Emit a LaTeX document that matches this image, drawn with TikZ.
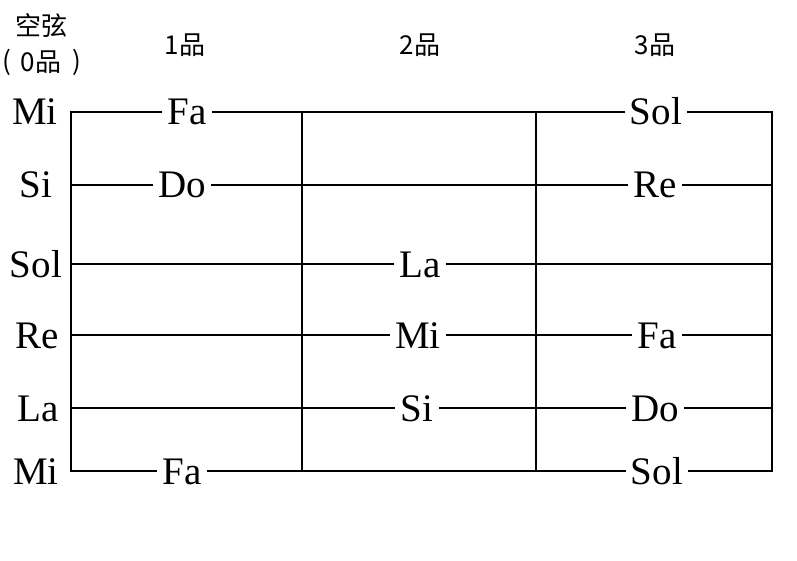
\documentclass[tikz,border=0pt]{standalone}
\usepackage{fontspec}
\setmainfont{Liberation Serif}
\newfontfamily\cjk{Noto Sans CJK SC}
\begin{document}
\begin{tikzpicture}[x=1pt,y=-1pt,
  grid/.style={line width=1.8pt, line cap=rect},
  note/.style={font=\fontsize{39}{39}\selectfont, inner xsep=6pt, inner ysep=0pt, text height=26pt, text depth=0pt},
  open/.style={note, inner xsep=0pt},
  head/.style={font=\cjk\fontsize{26}{26}\selectfont, inner sep=0pt}]
\useasboundingbox (0,0) rectangle (797,561);
% grid corners
\coordinate (L1) at (71,112);  \coordinate (R1) at (772,112);
\coordinate (L2) at (71,185);  \coordinate (R2) at (772,185);
\coordinate (L3) at (71,264);  \coordinate (R3) at (772,264);
\coordinate (L4) at (71,335);  \coordinate (R4) at (772,335);
\coordinate (L5) at (71,408);  \coordinate (R5) at (772,408);
\coordinate (L6) at (71,471);  \coordinate (R6) at (772,471);
\coordinate (T1) at (302,112); \coordinate (B1) at (302,471);
\coordinate (T2) at (536,112); \coordinate (B2) at (536,471);
% headers
\node[head] (h0a) at (41,25) {空弦};
\node[head] (h0p) at (7,62) {(};
\node[head] (h0b) at (41,62) {0品};
\node[head] (h0q) at (77,62) {)};
\node[head] (h1) at (185,45) {1品};
\node[head] (h2) at (420,45) {2品};
\node[head] (h3) at (655,45) {3品};
% open strings
\node[open] (o1) at (35,112) {Mi};
\node[open] (o2) at (36,185) {Si};
\node[open] (o3) at (36,264) {Sol};
\node[open] (o4) at (37,335) {Re};
\node[open] (o5) at (38,408) {La};
\node[open] (o6) at (36,471) {Mi};
% fretted notes
\node[note] (n11) at (187,112) {Fa};
\node[note] (n13) at (656,112) {Sol};
\node[note] (n21) at (182,185) {Do};
\node[note] (n23) at (655,185) {Re};
\node[note] (n32) at (420,264) {La};
\node[note] (n42) at (418,335) {Mi};
\node[note] (n43) at (657,335) {Fa};
\node[note] (n52) at (417,408) {Si};
\node[note] (n53) at (655,408) {Do};
\node[note] (n61) at (182,471) {Fa};
\node[note] (n63) at (657,471) {Sol};
% strings
\draw[grid] (L1) -- (n11) -- (n13) -- (R1);
\draw[grid] (L2) -- (n21) -- (n23) -- (R2);
\draw[grid] (L3) -- (n32) -- (R3);
\draw[grid] (L4) -- (n42) -- (n43) -- (R4);
\draw[grid] (L5) -- (n52) -- (n53) -- (R5);
\draw[grid] (L6) -- (n61) -- (n63) -- (R6);
% frets
\draw[grid] (L1) -- (L6);
\draw[grid] (T1) -- (B1);
\draw[grid] (T2) -- (B2);
\draw[grid] (R1) -- (R6);
\end{tikzpicture}
\end{document}
